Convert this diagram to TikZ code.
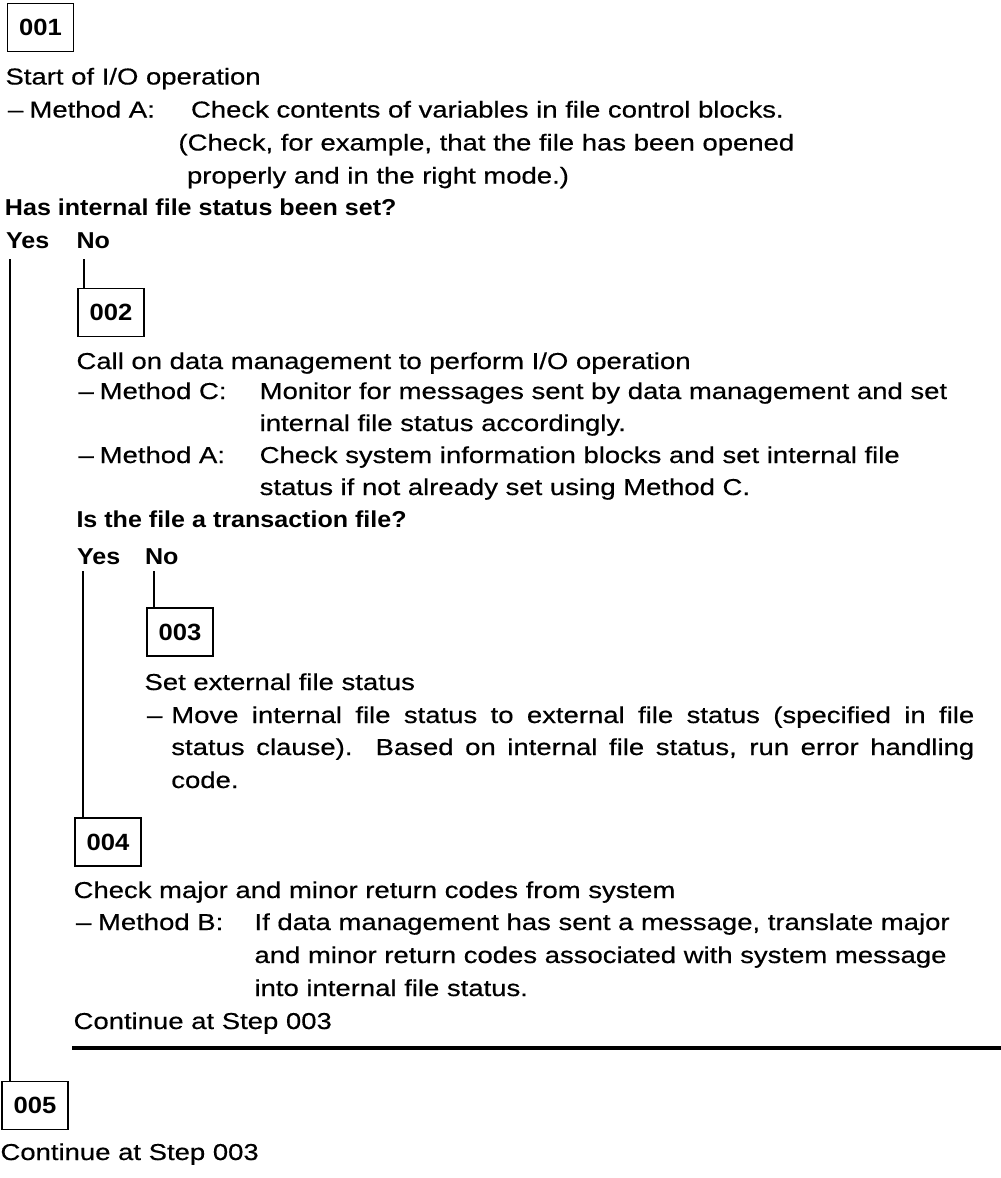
\documentclass[tikz,border=0pt]{standalone}
\usepackage{fontspec}
\setmainfont{Liberation Sans}[FakeStretch=1.195, FakeBold=0.5]
\newfontfamily\headfont{Liberation Sans}[FakeStretch=1.09]
\begin{document}
\begin{tikzpicture}[x=1pt,y=-1pt,
  body/.style={anchor=base west, inner sep=0pt, outer sep=0pt,
    font=\fontsize{23}{27}\selectfont},
  ask/.style={body, font=\fontsize{23}{27}\selectfont\headfont\bfseries},
  stepbox/.style={draw, line width=1.8pt, minimum width=66pt,
    minimum height=48pt, inner sep=0pt,
    font=\fontsize{23.5}{27}\selectfont\headfont\bfseries},
  link/.style={line width=1.3pt},
  rulebar/.style={line width=4pt}]
\useasboundingbox (0,0) rectangle (1001,1178);

% ---- step 001 ----
\node[stepbox] (s1) at (40.5,27.5) {001};
\node[body] (t1) at (5.5,84.5) {Start of I/O operation};
\node[body] (t1d) at (8,117.5) {--};
\node[body] (t1m) at (29.5,117.5) {Method A:};
\node[body] (t1a) at (191,117.5) {Check contents of variables in file control blocks.};
\node[body] (t1b) at (178.5,150.5) {(Check, for example, that the file has been opened};
\node[body] (t1c) at (187,183.5) {properly and in the right mode.)};
\node[ask] (q1) at (5,215.5) {Has internal file status been set?};
\node[ask] (q1y) at (6,248.5) {Yes};
\node[ask] (q1n) at (76.5,248.5) {No};

% ---- step 002 ----
\node[stepbox] (s2) at (111,312.5) {002};
\node[body] (t2) at (76.5,369) {Call on data management to perform I/O operation};
\node[body] (t2d) at (78.5,399) {--};
\node[body] (t2m) at (99.7,399) {Method C:};
\node[body] (t2a) at (259.7,399) {Monitor for messages sent by data management and set};
\node[body] (t2b) at (259.7,431) {internal file status accordingly.};
\node[body] (t2e) at (78.5,463) {--};
\node[body] (t2n) at (99.7,463) {Method A:};
\node[body] (t2c) at (259.7,463) {Check system information blocks and set internal file};
\node[body] (t2f) at (259.7,495) {status if not already set using Method C.};
\node[ask] (q2) at (76.5,527) {Is the file a transaction file?};
\node[ask] (q2y) at (77,564) {Yes};
\node[ask] (q2n) at (145,564) {No};

% ---- step 003 ----
\node[stepbox] (s3) at (180,632) {003};
\node[body] (t3) at (144.5,690) {Set external file status};
\node[body] (t3d) at (147,723) {--};
\node[body] (t3a) at (171.3,723) {\makebox[803pt][s]{Move internal file status to external file status (specified in file}};
\node[body] (t3b) at (171.3,755) {\makebox[803pt][s]{status clause).\ \ Based on internal file status, run error handling}};
\node[body] (t3c) at (171.3,788) {code.};

% ---- step 004 ----
\node[stepbox] (s4) at (108,842) {004};
\node[body] (t4) at (73.6,898) {Check major and minor return codes from system};
\node[body] (t4d) at (76,930) {--};
\node[body] (t4m) at (98,930) {Method B:};
\node[body] (t4a) at (254.5,930) {If data management has sent a message, translate major};
\node[body] (t4b) at (254.5,963) {and minor return codes associated with system message};
\node[body] (t4c) at (254.5,996) {into internal file status.};
\node[body] (t4e) at (73.6,1029) {Continue at Step 003};
\coordinate (r0) at (72,1048);
\coordinate (r1) at (1001,1048);
\draw[rulebar] (r0) -- (r1);

% ---- step 005 ----
\node[stepbox] (s5) at (35,1105.5) {005};
\node[body] (t5) at (0.5,1160) {Continue at Step 003};

% ---- decision branches ----
\coordinate (y1) at (10,259);
\coordinate (n1) at (84,259);
\coordinate (y2) at (83,571);
\coordinate (n2) at (154,571);
\draw[link] (y1) -- (y1 |- s5.north);
\draw[link] (n1) -- (n1 |- s2.north);
\draw[link] (y2) -- (y2 |- s4.north);
\draw[link] (n2) -- (n2 |- s3.north);
\end{tikzpicture}
\end{document}
